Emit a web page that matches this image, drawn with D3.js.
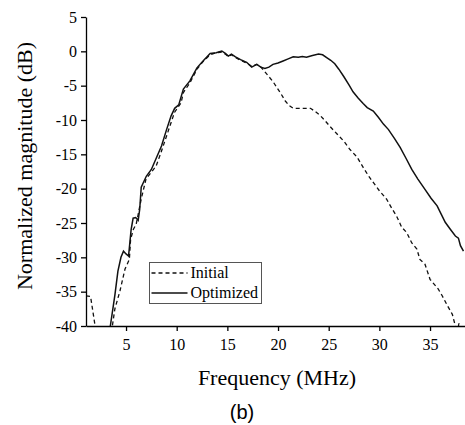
<!DOCTYPE html>
<html>
<head>
<meta charset="utf-8">
<script src="https://cdn.jsdelivr.net/npm/d3@7"></script>
<style>
  body { margin: 0; background: #fff; }
  svg { display: block; }
</style>
</head>
<body>
<div class="chart"></div>
<script>
// Optimized response (solid)
var optFreq = [3.45, 3.9, 4.2, 4.5, 4.75, 5.0, 5.25, 5.5, 5.7, 5.95, 6.2, 6.35, 6.5, 7.0, 7.5, 8.0, 8.5, 9.0, 9.45, 9.8,
               10.2, 10.66, 11.3, 12.0, 12.6, 13.3, 13.9, 14.45, 14.8, 15.1, 15.4, 15.8, 16.3, 16.9, 17.4, 17.9, 18.3, 18.7,
               19.1, 19.5, 20.0, 20.5, 21.0, 21.5, 22.0, 22.4, 22.8, 23.4, 24.0, 24.4, 24.8, 25.2, 25.6, 26.0, 26.5, 27.0,
               27.4, 27.9, 28.4, 28.8, 29.4, 29.9, 30.4, 30.9, 31.5, 32.05, 32.6, 33.2, 33.8, 34.5, 35.1, 35.7, 36.1, 36.5,
               37.0, 37.5, 37.8, 38.0, 38.3];
var optMag  = [-40, -35.5, -32, -30, -29.1, -29.5, -29.8, -26, -24.3, -24.2, -24.6, -23, -19.8, -18.2, -17.2, -15.5, -13.8, -11.4, -9.4, -8.3,
               -7.8, -5.5, -4.3, -2.4, -1.4, -0.3, -0.2, 0.05, -0.3, -0.7, -0.4, -0.8, -1.2, -1.6, -2.3, -1.9, -2.3, -2.5,
               -2.3, -1.9, -1.7, -1.4, -1.1, -0.8, -0.85, -0.75, -0.85, -0.6, -0.4, -0.5, -0.9, -1.3, -1.8, -2.6, -3.7, -4.9,
               -5.9, -6.8, -7.6, -8.2, -8.7, -9.6, -10.6, -11.4, -12.7, -14.0, -15.5, -17.2, -18.6, -20.1, -21.4, -22.5, -23.7, -24.9,
               -25.9, -26.9, -27.2, -28.3, -29.1];

// Initial response (dashed)
var initFreq = [1.05, 1.5, 1.95, 2.1, 3.5, 3.65, 3.9, 4.4, 4.9, 5.33, 5.45, 5.73, 6.0, 6.5, 6.97, 7.5, 7.97, 8.46, 9.12, 9.78,
                10.43, 10.66, 11.3, 12.0, 12.6, 13.3, 13.9, 14.45, 14.8, 15.1, 15.4, 15.8, 16.3, 16.9, 17.4, 17.9, 18.2, 18.6,
                19.05, 19.5, 19.9, 20.3, 20.7, 21.1, 21.5, 22.3, 23.2, 23.7, 24.2, 24.7, 25.1, 25.8, 26.5, 27.1, 27.8, 28.4,
                29.0, 29.4, 30.0, 30.7, 31.2, 31.7, 32.2, 32.7, 33.2, 33.7, 34.0, 34.5, 35.0, 35.4, 35.8, 36.2, 36.7, 37.2,
                37.5, 37.7, 37.85, 38.0];
var initMag  = [-35.6, -35.7, -40, -42, -42, -40, -37.5, -34.9, -31.7, -30.3, -27.4, -25.9, -25.2, -21.5, -18.6, -17.6, -16.7, -14.7, -11.8, -8.9,
                -7.5, -6.0, -4.6, -2.6, -1.5, -0.5, -0.2, -0.1, -0.4, -0.8, -0.5, -0.9, -1.3, -1.7, -2.2, -1.9, -2.1, -2.8,
                -3.6, -4.4, -5.3, -6.2, -7.2, -7.9, -8.3, -8.3, -8.3, -8.8, -9.4, -10.2, -10.9, -12.0, -13.1, -14.3, -15.4, -16.9,
                -18.3, -19.1, -20.3, -21.5, -22.8, -24.0, -25.6, -26.4, -27.9, -28.8, -30.3, -31.0, -33.2, -33.9, -34.6, -35.6, -37.0, -38.3,
                -40, -41, -39.6, -41];

var xTicks = [5, 10, 15, 20, 25, 30, 35];
var yTicks = [5, 0, -5, -10, -15, -20, -25, -30, -35, -40];
var legendLabels = ["Initial", "Optimized"];

var width = 465;
var height = 425;

var x = d3.scaleLinear().domain([1.05, 38.45]).range([86, 465]);
var y = d3.scaleLinear().domain([-40, 5]).range([326, 17]);

var svg = d3.select(".chart")
            .append("svg")
              .attr("width", width)
              .attr("height", height);

svg.append("clipPath")
    .attr("id", "plot")
  .append("rect")
    .attr("x", x.range()[0])
    .attr("y", y.range()[1] - 2)
    .attr("width", x.range()[1] - x.range()[0])
    .attr("height", y.range()[0] - y.range()[1] + 2);

var line = d3.line()
    .x(function(d) { return x(d[0]); })
    .y(function(d) { return y(d[1]); });

var initData = d3.zip(initFreq, initMag);
var optData = d3.zip(optFreq, optMag);

svg.append("path")
    .datum(initData)
    .attr("clip-path", "url(#plot)")
    .attr("d", line)
    .attr("fill", "none")
    .attr("stroke", "#111")
    .attr("stroke-width", 1.3)
    .attr("stroke-dasharray", "4,3");

svg.append("path")
    .datum(optData)
    .attr("clip-path", "url(#plot)")
    .attr("d", line)
    .attr("fill", "none")
    .attr("stroke", "#111")
    .attr("stroke-width", 1.5);

// Axes
var xAxis = svg.append("g")
    .attr("transform", "translate(0," + y.range()[0] + ")")
    .call(d3.axisBottom(x).tickValues(xTicks).tickSize(5).tickSizeOuter(0).tickPadding(8)
      .tickFormat(function(d) { return String(d); }));

var yAxis = svg.append("g")
    .attr("transform", "translate(" + x.range()[0] + ",0)")
    .call(d3.axisLeft(y).tickValues(yTicks).tickSize(5).tickSizeOuter(0).tickPadding(4)
      .tickFormat(function(d) { return String(d); }));

svg.selectAll(".domain, .tick line")
    .attr("stroke", "#000")
    .attr("stroke-width", 1.3);

svg.selectAll(".tick text")
    .attr("fill", "#000")
    .attr("font-family", "'Liberation Serif', 'Times New Roman', serif")
    .attr("font-size", "16px");

// Axis titles
svg.append("text")
   .text("Frequency (MHz)")
   .attr("x", 277)
   .attr("y", 385)
   .attr("text-anchor", "middle")
   .attr("font-family", "'Liberation Serif', 'Times New Roman', serif")
   .attr("font-size", "22px");

svg.append("text")
   .text("Normalized magnitude (dB)")
   .attr("transform", "translate(32,166) rotate(-90)")
   .attr("text-anchor", "middle")
   .attr("font-family", "'Liberation Serif', 'Times New Roman', serif")
   .attr("font-size", "22px");

svg.append("text")
   .text("(b)")
   .attr("x", 242)
   .attr("y", 419)
   .attr("text-anchor", "middle")
   .attr("font-family", "'Liberation Sans', Arial, sans-serif")
   .attr("font-size", "20px");

// Legend
var legend = svg.append("g").attr("transform", "translate(149.5,262.5)");
legend.append("rect")
    .attr("width", 112)
    .attr("height", 41)
    .attr("fill", "#fff")
    .attr("stroke", "#555")
    .attr("stroke-width", 1);

legend.selectAll("line")
    .data(legendLabels)
    .enter()
    .append("line")
    .attr("x1", 2)
    .attr("x2", 38)
    .attr("y1", function(d, i) { return 10.5 + i * 20; })
    .attr("y2", function(d, i) { return 10.5 + i * 20; })
    .attr("stroke", "#111")
    .attr("stroke-width", 1.3)
    .attr("stroke-dasharray", function(d, i) { return i === 0 ? "4,3" : null; });

legend.selectAll("text")
    .data(legendLabels)
    .enter()
    .append("text")
    .text(function(d) { return d; })
    .attr("x", 41)
    .attr("y", function(d, i) { return 15.5 + i * 20; })
    .attr("font-family", "'Liberation Serif', 'Times New Roman', serif")
    .attr("font-size", "16px");
</script>
</body>
</html>
